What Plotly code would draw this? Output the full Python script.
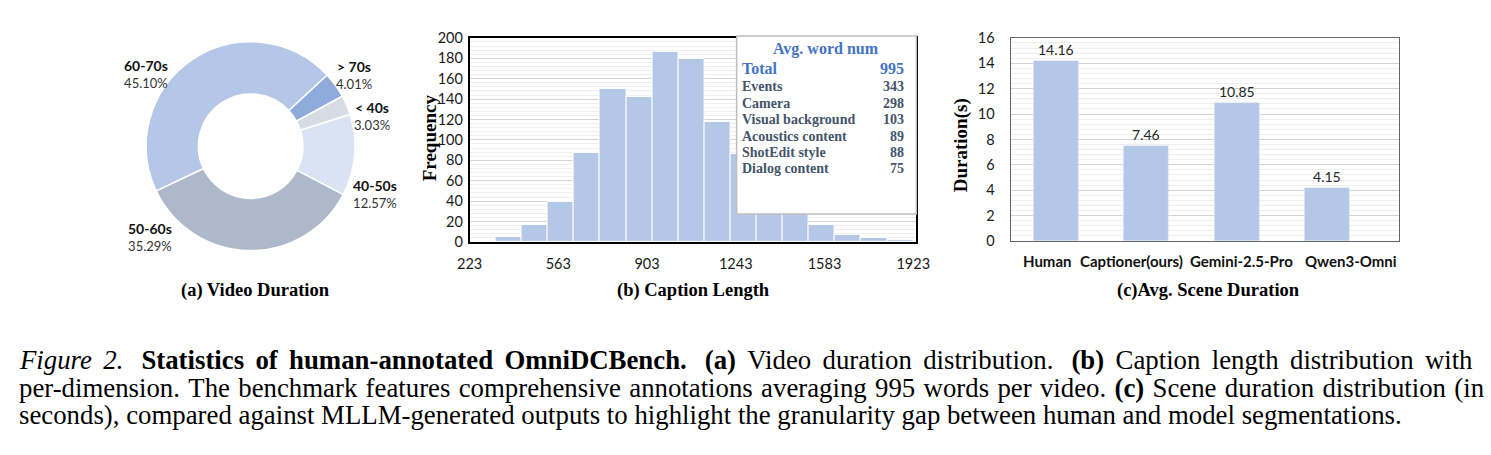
import plotly.graph_objects as go

W, H = 1491, 455

# ---------------- data ----------------
# (a) video duration (clockwise order starting at the ">70s" slice)
dur_labels = ["> 70s", "< 40s", "40-50s", "50-60s", "60-70s"]
dur_pct = [4.01, 3.03, 12.57, 35.29, 45.10]

# (b) caption length histogram
bin_starts = [223, 323, 423, 523, 623, 723, 823, 923, 1023, 1123,
              1223, 1323, 1423, 1523, 1623, 1723, 1823]
bin_counts = [1, 5, 17, 39, 87, 150, 142, 186, 179, 118,
              86, 58, 33, 17, 7, 4, 2]
bin_width = 100
hist_ticks = [223, 563, 903, 1243, 1583, 1923]

table_rows = ["Events", "Camera", "Visual background", "Acoustics content",
              "ShotEdit style", "Dialog content"]
table_vals = [343, 298, 103, 89, 88, 75]
total_words = 995

# (c) average scene duration
models = ["Human", "Captioner(ours)", "Gemini-2.5-Pro", "Qwen3-Omni"]
scene_dur = [14.16, 7.46, 10.85, 4.15]

caption_words = [
    ["<i>Figure</i>", "<i>2.</i>\u00a0", "<b>Statistics</b>", "<b>of</b>", "<b>human-annotated</b>",
     "<b>OmniDCBench.</b>\u00a0", "<b>(a)</b>", "Video", "duration", "distribution.\u00a0",
     "<b>(b)</b>", "Caption", "length", "distribution", "with"],
    ["per-dimension.", "The", "benchmark", "features", "comprehensive", "annotations",
     "averaging", "995", "words", "per", "video.", "<b>(c)</b>", "Scene", "duration",
     "distribution", "(in"],
    ["seconds),", "compared", "against", "MLLM-generated", "outputs", "to", "highlight",
     "the", "granularity", "gap", "between", "human", "and", "model", "segmentations."],
]

# ---------------- styles ----------------
BLUE = "#B4C7E7"
dur_colors = ["#8FAADC", "#D6DCE4", "#DAE3F3", "#ADB9CA", "#B4C7E7"]
SANS = "Lato"
SERIF = "Liberation Serif"
CAP_SIZE = 26.8
cap_extra_px = [4.6, 1.6, 0]   # extra px per word gap (mimics justified lines)
cat_xshift = [-8, -15, 5, 24]


def px(x):
    return x / W


def py(y):
    return 1 - y / H


def note(x, y, text, size, family, color="#000", xanchor="center", angle=0, align="center"):
    return dict(x=px(x), y=py(y), xref="paper", yref="paper", text=text,
                xanchor=xanchor, yanchor="middle", showarrow=False, align=align,
                textangle=angle, borderpad=0,
                font=dict(family=family, size=size, color=color))


def justify(words, extra):
    if extra <= 0:
        return " ".join(words)
    sep = f" <span style='font-size:{extra / 0.25:.1f}px'>\u00a0</span>"
    return sep.join(words)


fig = go.Figure()

# (a) donut
fig.add_trace(go.Pie(
    labels=dur_labels, values=dur_pct, sort=False, direction="clockwise",
    rotation=47, hole=0.5, textinfo="none", showlegend=False,
    marker=dict(colors=dur_colors, line=dict(color="white", width=1.5)),
    domain=dict(x=[px(134), px(350)], y=[py(251), py(34)]),
))

# (b) histogram bars
fig.add_trace(go.Bar(
    x=bin_starts, y=bin_counts, width=bin_width, offset=0,
    marker=dict(color=BLUE, line=dict(color="white", width=1)),
    xaxis="x", yaxis="y", showlegend=False,
))

# (c) bars
fig.add_trace(go.Bar(
    x=models, y=scene_dur, width=0.5, marker=dict(color=BLUE),
    text=[f"{v:.2f}" for v in scene_dur], textposition="outside",
    textfont=dict(family=SANS, size=14, color="#262626"), cliponaxis=False,
    xaxis="x2", yaxis="y2", showlegend=False,
))

tickfont = dict(family=SANS, size=14.5, color="#1a1a1a")

fig.update_layout(
    width=W, height=H, margin=dict(l=0, r=0, t=0, b=0),
    paper_bgcolor="white", plot_bgcolor="white",
    bargap=0,
    xaxis=dict(domain=[px(465), px(920)], range=[223, 1935], anchor="y",
               tickvals=hist_ticks, ticks="", showgrid=False, zeroline=False,
               showline=True, mirror=True, linecolor="#000", linewidth=1.5,
               tickfont=tickfont, ticklabelstandoff=8),
    yaxis=dict(domain=[py(242), py(30)], range=[0, 200], anchor="x",
               dtick=20, ticks="", showgrid=True, gridcolor="#D3D3D3", gridwidth=1,
               minor=dict(dtick=4, showgrid=True, gridcolor="#EFEFEF", gridwidth=1),
               zeroline=False, showline=True, mirror=True, linecolor="#000",
               linewidth=1.5, tickfont=tickfont, ticklabelstandoff=2),
    xaxis2=dict(domain=[px(1016), px(1412)], anchor="y2", ticks="",
                showgrid=False, showline=True, mirror=True, linecolor="#666",
                linewidth=1.2, showticklabels=False),
    yaxis2=dict(domain=[py(241), py(30)], range=[0, 16], anchor="x2",
                dtick=2, ticks="", showgrid=True, gridcolor="#D3D3D3",
                minor=dict(dtick=0.4, showgrid=True, gridcolor="#EFEFEF"),
                zeroline=False, showline=True, mirror=True, linecolor="#666",
                linewidth=1.2, tickfont=tickfont, ticklabelstandoff=12),
)

ann = []

# category labels of (c), tied to the category axis
for m, xs in zip(models, cat_xshift):
    ann.append(dict(x=m, xref="x2", y=py(262), yref="paper", text=f"<b>{m}</b>",
                    xshift=xs, xanchor="center", yanchor="middle", showarrow=False,
                    font=dict(family=SANS, size=15, color="#111")))

# donut labels
lab_pos = [(347, 69), (366, 111), (369, 192), (140, 237), (135, 68)]
for lab, val, (x, y) in zip(dur_labels, dur_pct, lab_pos):
    ann.append(note(x, y,
                    f"<b><span style='font-size:14px;color:#111'>{lab}</span></b><br>"
                    f"<span style='color:#333'>{val:.2f}%</span>",
                    13, SANS, "#333"))

# axis titles
ann.append(note(425, 134, "<b>Frequency</b>", 19, SERIF, angle=-90))
ann.append(note(965, 142, "<b>Duration(s)</b>", 19, SERIF, angle=-90))

# sub-figure titles
for t, x in [("(a) Video Duration", 247), ("(b) Caption Length", 693),
             ("(c)Avg. Scene Duration", 1218)]:
    ann.append(note(x, 292, f"<b>{t}</b>", 18.5, SERIF))

# inset table
fig.add_shape(type="rect", xref="paper", yref="paper",
              x0=px(737), x1=px(920), y0=py(213), y1=py(28),
              fillcolor="white", line=dict(color="#BFBFBF", width=1.5), layer="above")
TBLUE = "#4472C4"
TDARK = "#44546A"
ann.append(note(828, 42, "<b>Avg. word num</b>", 16, SERIF, TBLUE))
ann.append(note(741, 62, "<b>Total</b>", 16, SERIF, TBLUE, xanchor="left"))
ann.append(note(908, 62, f"<b>{total_words}</b>", 16, SERIF, TBLUE, xanchor="right"))
for i, (r, v) in enumerate(zip(table_rows, table_vals)):
    y = 81 + 17 * i
    ann.append(note(741, y, f"<b>{r}</b>", 14, SERIF, TDARK, xanchor="left"))
    ann.append(note(908, y, f"<b>{v}</b>", 14, SERIF, TDARK, xanchor="right"))

# figure caption (first two lines stretched to mimic justified text)
for i, (words, extra) in enumerate(zip(caption_words, cap_extra_px)):
    ann.append(note(5, 365 + 28.5 * i, justify(words, extra), CAP_SIZE, SERIF,
                    xanchor="left", align="left"))

fig.update_layout(annotations=ann)
fig.write_html("out.html")
